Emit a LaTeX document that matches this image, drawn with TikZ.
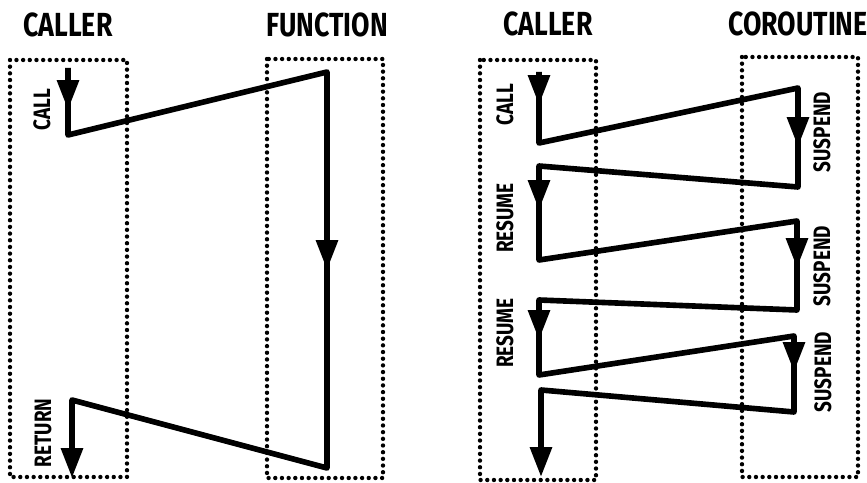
\documentclass[tikz,border=0pt]{standalone}
\usepackage{fontspec}
\newfontfamily\sketchfont{Fira Sans}[FakeStretch=0.8]
\usetikzlibrary{arrows.meta,positioning}

\begin{document}
\begin{tikzpicture}[x=0.02cm, y=-0.02cm,
      lane/.style={draw, line width=2.5pt, dash pattern=on 0pt off 3.8pt, line cap=round},
      wire/.style={line width=3.2pt, line join=round},
      head/.style={wire, -{Triangle[length=17pt, width=12pt]}},
      title/.style={font=\sketchfont\bfseries\fontsize{19}{19}\selectfont},
      tag/.style={font=\sketchfont\bfseries\fontsize{13.5}{14}\selectfont, rotate=90}
    ]
      \useasboundingbox (0,0) rectangle (867,483);

      % Lanes
      \draw[lane] (10,60) rectangle (127,477);
      \draw[lane] (267,59) rectangle (383,478);
      \draw[lane] (480,60) rectangle (596,480);
      \draw[lane] (742,57) rectangle (858,477);

      % Titles
      \node[title] (caller1) at (68,25) {CALLER};
      \node[title] (function) at (327,25) {FUNCTION};
      \node[title] (caller2) at (548,24) {CALLER};
      \node[title] (coroutine) at (798,24) {COROUTINE};

      % Left: call and return
      \coordinate (a0) at (68,68);
      \coordinate (a1) at (68,135);
      \coordinate (f0) at (327,72);
      \coordinate (f1) at (327,468);
      \coordinate (a2) at (72,400);
      \coordinate (a3) at (72,478);
      \coordinate (ta) at (68,110);
      \coordinate (tf) at (327,270);

      \draw[head] (a0) -- (a1) -- (f0) -- (f1) -- (a2) -- (a3);
      \draw[head] (a0) -- (ta);
      \draw[head] (f0) -- (tf);

      \node[tag] (call1) at (42,110) {CALL};
      \node[tag] (return) at (43,433) {RETURN};

      % Right: call, suspend and resume
      \coordinate (b0) at (539,72);
      \coordinate (b1) at (539,143);
      \coordinate (c0) at (798,88);
      \coordinate (c1) at (798,187);
      \coordinate (b2) at (539,166);
      \coordinate (b3) at (539,260);
      \coordinate (c2) at (797,221);
      \coordinate (c3) at (797,310);
      \coordinate (b4) at (539,300);
      \coordinate (b5) at (539,375);
      \coordinate (c4) at (794,336);
      \coordinate (c5) at (794,412);
      \coordinate (b6) at (541,390);
      \coordinate (b7) at (541,477);
      \coordinate (tb1) at (539,105);
      \coordinate (tc1) at (798,147);
      \coordinate (tb2) at (539,210);
      \coordinate (tc2) at (797,268);
      \coordinate (tb3) at (539,340);
      \coordinate (tc3) at (794,372);

      \draw[head] (b0) -- (b1) -- (c0) -- (c1) -- (b2) -- (b3) -- (c2) -- (c3)
        -- (b4) -- (b5) -- (c4) -- (c5) -- (b6) -- (b7);
      \draw[head] (b0) -- (tb1);
      \draw[head] (c0) -- (tc1);
      \draw[head] (b2) -- (tb2);
      \draw[head] (c2) -- (tc2);
      \draw[head] (b4) -- (tb3);
      \draw[head] (c4) -- (tc3);

      \node[tag] (call2) at (505,105) {CALL};
      \node[tag] (suspend1) at (822,132) {SUSPEND};
      \node[tag] (resume1) at (505,218) {RESUME};
      \node[tag] (suspend2) at (822,266) {SUSPEND};
      \node[tag] (resume2) at (505,333) {RESUME};
      \node[tag] (suspend3) at (823,372) {SUSPEND};
    \end{tikzpicture}
\end{document}
